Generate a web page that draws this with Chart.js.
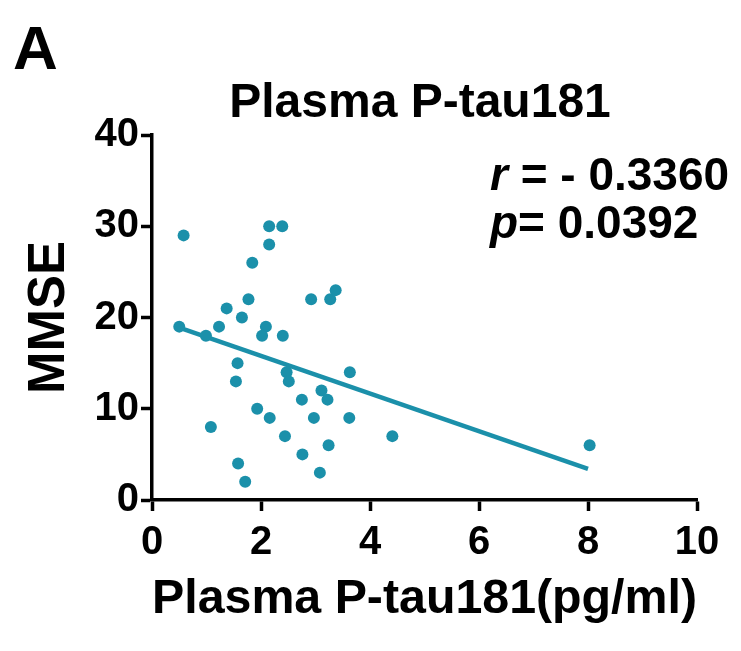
<!DOCTYPE html>
<html>
<head>
<meta charset="utf-8">
<script src="https://cdn.jsdelivr.net/npm/chart.js@4.4.1/dist/chart.umd.min.js"></script>
<style>
  html, body { margin: 0; padding: 0; background: #fff; }
  #wrap { width: 741px; height: 651px; }
</style>
</head>
<body>
<div id="wrap"><canvas id="scatterChart"></canvas></div>
<script>
// values
const ptau = [0.58, 2.15, 2.39, 2.15, 1.84, 1.77, 1.37, 1.65, 1.23, 0.50, 0.99, 2.09, 2.02, 2.40,
  2.92, 3.27, 3.37, 1.57, 1.54, 2.47, 2.51, 3.63, 3.11, 3.22, 2.75, 1.93, 2.16, 2.97, 3.62,
  1.08, 2.44, 4.41, 3.24, 8.03, 2.76, 1.58, 3.08, 1.71];
const mmse = [29, 30, 30, 28, 26, 22, 21, 20, 19, 19, 18, 19, 18, 18,
  22, 22, 23, 15, 13, 14, 13, 14, 12, 11, 11, 10, 9, 9, 9,
  8, 7, 7, 6, 6, 5, 4, 3, 2];
// fitted line endpoints as drawn in the figure
const fitX = [0.5, 8.0];
const fitY = [18.9, 3.4];

const xTicks = [0, 2, 4, 6, 8, 10];
const yTicks = [0, 10, 20, 30, 40];

const teal = '#1b90aa';
const fontFam = "'Liberation Sans', Arial, sans-serif";

const annotations = {
  id: 'annotations',
  afterDraw(c) {
    const ctx = c.ctx;
    ctx.save();
    ctx.fillStyle = '#000';
    ctx.textBaseline = 'alphabetic';
    ctx.textAlign = 'left';
    ctx.font = 'bold 62px ' + fontFam;
    ctx.fillText('A', 13, 69);

    ctx.textAlign = 'center';
    ctx.font = 'bold 48px ' + fontFam;
    ctx.fillText('Plasma P-tau181', 420, 117);

    ctx.textAlign = 'left';
    ctx.font = 'italic bold 46px ' + fontFam;
    ctx.fillText('r', 490, 190);
    let w = ctx.measureText('r').width;
    ctx.font = 'bold 46px ' + fontFam;
    ctx.fillText(' = - 0.3360', 490 + w, 190);

    ctx.font = 'italic bold 46px ' + fontFam;
    ctx.fillText('p', 490, 238);
    w = ctx.measureText('p').width;
    ctx.font = 'bold 46px ' + fontFam;
    ctx.fillText('= 0.0392', 490 + w, 238);
    ctx.restore();
  }
};

new Chart(document.getElementById('scatterChart'), {
  type: 'scatter',
  data: {
    datasets: [
      {
        label: 'MMSE',
        data: ptau.map((x, i) => ({ x, y: mmse[i] })),
        backgroundColor: teal,
        borderColor: teal,
        pointRadius: 6,
        pointBorderWidth: 0,
        order: 1
      },
      {
        label: 'fit',
        type: 'line',
        data: fitX.map((x, i) => ({ x, y: fitY[i] })),
        borderColor: teal,
        borderWidth: 4.5,
        pointRadius: 0,
        fill: false,
        order: 2
      }
    ]
  },
  options: {
    responsive: true,
    maintainAspectRatio: false,
    animation: false,
    layout: { padding: { top: 135, right: 44, bottom: 0, left: 0 } },
    plugins: {
      legend: { display: false },
      tooltip: { enabled: false }
    },
    scales: {
      x: {
        type: 'linear',
        min: 0, max: 10,
        afterBuildTicks: s => { s.ticks = xTicks.map(v => ({ value: v })); },
        afterFit: s => { s.height = 151; },
        grid: { drawOnChartArea: false, drawTicks: true, tickLength: 11, tickWidth: 3.5, color: '#000' },
        border: { display: true, color: '#000', width: 3.5 },
        ticks: { color: '#000', font: { family: fontFam, size: 40, weight: 'bold' }, padding: 8, maxRotation: 0 },
        title: {
          display: true,
          text: 'Plasma P-tau181(pg/ml)',
          color: '#000',
          font: { family: fontFam, size: 49, weight: 'bold' },
          padding: { top: 0, bottom: 22 }
        }
      },
      y: {
        type: 'linear',
        min: 0, max: 40,
        afterBuildTicks: s => { s.ticks = yTicks.map(v => ({ value: v })); },
        afterFit: s => { s.width = 152; },
        grid: { drawOnChartArea: false, drawTicks: true, tickLength: 11, tickWidth: 3.5, color: '#000' },
        border: { display: true, color: '#000', width: 3.5 },
        ticks: { color: '#000', font: { family: fontFam, size: 40, weight: 'bold' }, padding: 2 },
        title: {
          display: true,
          text: 'MMSE',
          color: '#000',
          font: { family: fontFam, size: 51, weight: 'bold' },
          padding: { top: 19, bottom: 0 }
        }
      }
    }
  },
  plugins: [annotations]
});
</script>
</body>
</html>
